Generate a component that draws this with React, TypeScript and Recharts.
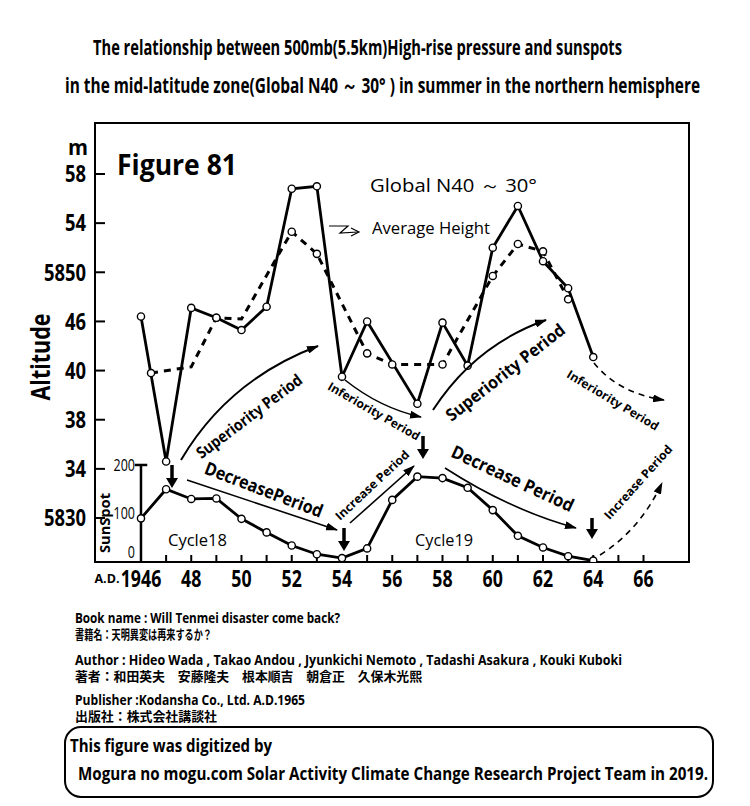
import React from 'react';
import { LineChart, Line, XAxis, YAxis, ReferenceArea, ReferenceLine, ReferenceDot } from 'recharts';

// ---- data ----
const altYears = [1946, 1947, 1948, 1949, 1950, 1951, 1952, 1953, 1954, 1955, 1957, 1958, 1959, 1960, 1961, 1962, 1963, 1964];
const altValues = [5846.4, 5834.6, 5847.1, 5846.3, 5845.3, 5847.2, 5856.8, 5857.0, 5841.5, 5846.0, 5839.3, 5845.9, 5842.4, 5852.0, 5855.4, 5850.9, 5848.7, 5843.1];

const avgYears = [1946.4, 1948, 1949, 1950, 1952, 1953, 1955, 1956, 1958, 1960, 1961, 1962, 1963];
const avgValues = [5841.8, 5842.3, 5846.3, 5846.2, 5853.3, 5851.5, 5843.4, 5842.5, 5842.5, 5849.7, 5852.3, 5851.7, 5847.8];
const avgCircled = [true, false, true, false, true, true, true, true, true, true, true, true, true];

const sunYears = [1946, 1947, 1948, 1949, 1950, 1951, 1952, 1953, 1954, 1955, 1956, 1957, 1958, 1959, 1960, 1961, 1962, 1963, 1964];
const sunValues = [90, 150, 130, 131, 89, 61, 34, 16, 8, 28, 128, 176, 173, 153, 107, 54, 30, 12, 3];

const xTickYears = [1946, 1947, 1948, 1949, 1950, 1951, 1952, 1953, 1954, 1955, 1956, 1957, 1958, 1959, 1960, 1961, 1962, 1963, 1964, 1965, 1966];
const xTickLabels = ['1946', '48', '50', '52', '54', '56', '58', '60', '62', '64', '66'];
const yTickValues = [5830, 5834, 5838, 5842, 5846, 5850, 5854, 5858];
const yTickLabels = ['5830', '34', '38', '40', '46', '5850', '54', '58'];
const sunTicks = [0, 100, 200];

const X_DOMAIN: [number, number] = [1944.17, 1967.81];
const Y_DOMAIN: [number, number] = [5826.42, 5862.15];
const SUN_DOMAIN: [number, number] = [0, 905];

const altData = altYears.map((year, i) => ({ year, value: altValues[i] }));
const avgData = avgYears.map((year, i) => ({ year, value: avgValues[i], circled: avgCircled[i] }));
const sunData = sunYears.map((year, i) => ({ year, value: sunValues[i] }));

const FONT = "'Open Sans', 'Noto Sans', sans-serif";
const CJK = "'Noto Sans CJK JP', sans-serif";

const XTick = (props: any) => {
  const { x, y, payload } = props;
  const v = payload.value;
  if (v % 2 !== 0) return <g />;
  const label = xTickLabels[(v - 1946) / 2];
  return (
    <text
      x={0}
      y={0}
      dy="0.71em"
      textAnchor="middle"
      fontFamily={FONT}
      fontWeight={700}
      fontSize={24}
      fill="#000"
      transform={`translate(${x} ${y}) scale(0.74 1)`}
    >
      {label}
    </text>
  );
};

const YTick = (props: any) => {
  const { x, y, payload } = props;
  const idx = yTickValues.indexOf(payload.value);
  return (
    <text
      x={0}
      y={0}
      dy="0.36em"
      textAnchor="end"
      fontFamily={FONT}
      fontWeight={700}
      fontSize={23}
      fill="#000"
      transform={`translate(${x} ${y}) scale(0.8 1)`}
    >
      {yTickLabels[idx]}
    </text>
  );
};

const SunTickLabel = (props: any) => {
  const { viewBox, v } = props;
  const x = (viewBox?.x ?? 0) - 6;
  const y = viewBox?.y ?? 0;
  return (
    <text
      x={0}
      y={0}
      dy={v === 0 ? '-0.22em' : '0.36em'}
      textAnchor="end"
      fontFamily={FONT}
      fontSize={16}
      fill="#000"
      transform={`translate(${x} ${y}) scale(0.78 1)`}
    >
      {String(v)}
    </text>
  );
};

const makeDot = (showAll: boolean) => (props: any) => {
  const { cx, cy, payload, index } = props;
  if (!showAll && !payload.circled) return <g key={`d${index}`} />;
  return <circle key={`d${index}`} cx={cx} cy={cy} r={3.6} fill="#fff" stroke="#000" strokeWidth={1.4} strokeDasharray="none" />;
};

type TProps = {
  x: number; y: number; w: number; size: number; bold?: boolean; rot?: number; sx?: number;
  anchor?: 'start' | 'middle' | 'end'; family?: string; children: React.ReactNode;
};
const T = ({ x, y, w, size, bold, rot = 0, sx = 1, anchor = 'middle', family = FONT, children }: TProps) => (
  <text
    x={0}
    y={0}
    fontSize={size}
    fontWeight={bold ? 700 : 400}
    fontFamily={family}
    textAnchor={anchor}
    dominantBaseline="central"
    textLength={w / sx}
    lengthAdjust="spacingAndGlyphs"
    fill="#000"
    transform={`translate(${x} ${y}) rotate(${rot}) scale(${sx} 1)`}
  >
    {children}
  </text>
);

const DownArrow = ({ x, y1, y2 }: { x: number; y1: number; y2: number }) => (
  <g>
    <line x1={x} y1={y1} x2={x} y2={y2 - 8} stroke="#000" strokeWidth={3.5} />
    <path d={`M${x - 6},${y2 - 10} L${x + 6},${y2 - 10} L${x},${y2} Z`} fill="#000" />
  </g>
);

export default function App() {
  return (
    <div style={{ position: 'absolute', left: 0, top: 0, width: 750, height: 806, background: '#fff', overflow: 'hidden' }}>
      <div style={{ position: 'absolute', left: 0, top: 0 }}>
        <LineChart width={750} height={600} margin={{ top: 123, right: 61, left: 0, bottom: 0 }}>
          <XAxis
            dataKey="year"
            type="number"
            domain={X_DOMAIN}
            allowDataOverflow
            ticks={xTickYears}
            interval={0}
            height={38}
            axisLine={false}
            tickLine={{ stroke: '#000', strokeWidth: 2 }}
            tickSize={-7}
            tickMargin={15}
            tick={<XTick />}
          />
          <YAxis
            yAxisId="alt"
            type="number"
            domain={Y_DOMAIN}
            allowDataOverflow
            ticks={yTickValues}
            interval={0}
            width={95}
            axisLine={false}
            tickLine={{ stroke: '#000', strokeWidth: 2 }}
            tickSize={-10}
            tickMargin={19}
            tick={<YTick />}
          />
          <YAxis yAxisId="sun" type="number" domain={SUN_DOMAIN} allowDataOverflow hide />
          <ReferenceArea
            yAxisId="alt"
            x1={X_DOMAIN[0]}
            x2={X_DOMAIN[1]}
            y1={Y_DOMAIN[0]}
            y2={Y_DOMAIN[1]}
            fill="none"
            fillOpacity={0}
            stroke="#000"
            strokeWidth={2}
            ifOverflow="visible"
          />
          <ReferenceLine
            yAxisId="sun"
            segment={[{ x: sunYears[0], y: sunTicks[0] }, { x: sunYears[0], y: sunTicks[2] }]}
            stroke="#000"
            strokeWidth={2.5}
          />
          <ReferenceLine
            yAxisId="sun"
            segment={[{ x: sunYears[0] - 0.25, y: sunTicks[2] }, { x: sunYears[0] + 0.25, y: sunTicks[2] }]}
            stroke="#000"
            strokeWidth={2.5}
          />
          {sunTicks.map((t) => (
            <ReferenceDot
              key={t}
              yAxisId="sun"
              x={sunYears[0]}
              y={t}
              r={0}
              fill="none"
              stroke="none"
              label={<SunTickLabel v={t} />}
            />
          ))}
          <Line
            yAxisId="alt"
            data={avgData}
            dataKey="value"
            type="linear"
            stroke="#000"
            strokeWidth={3}
            strokeDasharray="7 6"
            dot={makeDot(false)}
            activeDot={false}
            isAnimationActive={false}
          />
          <Line
            yAxisId="alt"
            data={altData}
            dataKey="value"
            type="linear"
            stroke="#000"
            strokeWidth={2.8}
            dot={makeDot(true)}
            activeDot={false}
            isAnimationActive={false}
          />
          <Line
            yAxisId="sun"
            data={sunData}
            dataKey="value"
            type="linear"
            stroke="#000"
            strokeWidth={2.8}
            dot={makeDot(true)}
            activeDot={false}
            isAnimationActive={false}
          />
        </LineChart>
      </div>
      <svg width={750} height={806} style={{ position: 'absolute', left: 0, top: 0, pointerEvents: 'none' }}>
        <defs>
          <marker id="ah" viewBox="0 0 12 8" refX="11" refY="4" markerWidth="12" markerHeight="8" markerUnits="userSpaceOnUse" orient="auto">
            <path d="M0,0 L12,4 L0,8 Z" fill="#000" />
          </marker>
        </defs>

        {/* title */}
        <T x={93} y={47} w={529} size={22} bold sx={0.7} anchor="start">The relationship between 500mb(5.5km)High-rise pressure and sunspots</T>
        <T x={65} y={85} w={635} size={22} bold sx={0.7} anchor="start">in the mid-latitude zone(Global N40 ～ 30°  ) in summer in the northern hemisphere</T>

        {/* axis titles */}
        <T x={78} y={146} w={20} size={22} bold>m</T>
        <T x={39} y={357} w={87} size={27} bold rot={-90}>Altitude</T>
        <T x={107} y={578} w={25} size={12} bold>A.D.</T>
        <T x={104} y={523} w={60} size={14} bold rot={-90}>SunSpot</T>

        {/* figure labels */}
        <T x={117} y={164} w={120} size={28} bold anchor="start">Figure 81</T>
        <T x={370} y={185} w={167} size={19} anchor="start">Global N40 ～ 30°</T>
        <T x={372} y={227} w={118} size={17} anchor="start">Average Height</T>
        <path d="M329,226 L348,226 L340,233 L358,232" fill="none" stroke="#000" strokeWidth={1.2} />
        <path d="M351,228 L359,232 L351,236" fill="none" stroke="#000" strokeWidth={1.2} />

        {/* superiority / inferiority */}
        <path d="M181,460 Q228,380 318,346" fill="none" stroke="#000" strokeWidth={2} markerEnd="url(#ah)" />
        <T x={249} y={416} w={128} size={16} bold rot={-37}>Superiority Period</T>

        <path d="M345,380 Q380,408 421,417" fill="none" stroke="#000" strokeWidth={1.6} markerEnd="url(#ah)" />
        <T x={374} y={411} w={104} size={12} bold rot={30}>Inferiority Period</T>

        <path d="M433,410 Q475,345 546,320" fill="none" stroke="#000" strokeWidth={2} markerEnd="url(#ah)" />
        <T x={505} y={372} w={146} size={17} bold rot={-38}>Superiority Period</T>

        <path d="M594,363 Q618,393 664,400" fill="none" stroke="#000" strokeWidth={1.6} strokeDasharray="6 5" markerEnd="url(#ah)" />
        <T x={613} y={400} w={105} size={12} bold rot={31}>Inferiority Period</T>

        {/* decrease / increase */}
        <line x1={187} y1={480} x2={337} y2={530} stroke="#000" strokeWidth={1.6} markerEnd="url(#ah)" />
        <T x={264} y={489} w={125} size={18} bold rot={21}>DecreasePeriod</T>

        <line x1={350} y1={523} x2={414} y2={466} stroke="#000" strokeWidth={1.6} markerEnd="url(#ah)" />
        <T x={372} y={485} w={96} size={12} bold rot={-43}>Increase Period</T>

        <path d="M445,468 Q510,510 576,528" fill="none" stroke="#000" strokeWidth={1.6} markerEnd="url(#ah)" />
        <T x={513} y={478} w={133} size={18} bold rot={25}>Decrease Period</T>

        <path d="M600,555 Q640,530 662,483" fill="none" stroke="#000" strokeWidth={1.6} strokeDasharray="6 5" markerEnd="url(#ah)" />
        <T x={638} y={482} w={95} size={12} bold rot={-48}>Increase Period</T>

        <DownArrow x={172} y1={465} y2={488} />
        <DownArrow x={344} y1={528} y2={551} />
        <DownArrow x={423} y1={436} y2={459} />
        <DownArrow x={592} y1={518} y2={539} />

        <T x={168} y={539} w={59} size={17} anchor="start">Cycle18</T>
        <T x={415} y={539} w={58} size={17} anchor="start">Cycle19</T>

        {/* footer */}
        <T x={75} y={618} w={265} size={14} bold sx={0.85} anchor="start">Book name : Will Tenmei disaster come back?</T>
        <T x={75} y={633} w={137} size={13} bold anchor="start" family={CJK}>書籍名：天明異変は再来するか？</T>
        <T x={75} y={660} w={547} size={14} bold sx={0.85} anchor="start">Author : Hideo Wada , Takao Andou , Jyunkichi Nemoto , Tadashi Asakura , Kouki Kuboki</T>
        <T x={75} y={675} w={347} size={13} bold anchor="start" family={CJK}>著者：和田英夫　安藤隆夫　根本順吉　朝倉正　久保木光熙</T>
        <T x={75} y={700} w={230} size={14} bold sx={0.85} anchor="start">Publisher :Kodansha Co., Ltd.  A.D.1965</T>
        <T x={75} y={715} w={142} size={13} bold anchor="start" family={CJK}>出版社：株式会社講談社</T>

        <rect x={65} y={727} width={648} height={70} rx={16} ry={16} fill="none" stroke="#000" strokeWidth={2} />
        <T x={70} y={746} w={202} size={17} bold sx={0.8} anchor="start">This figure was digitized by</T>
        <T x={78} y={774} w={630} size={17} bold sx={0.8} anchor="start">Mogura no mogu.com Solar Activity Climate Change Research Project Team in 2019.</T>
      </svg>
    </div>
  );
}
